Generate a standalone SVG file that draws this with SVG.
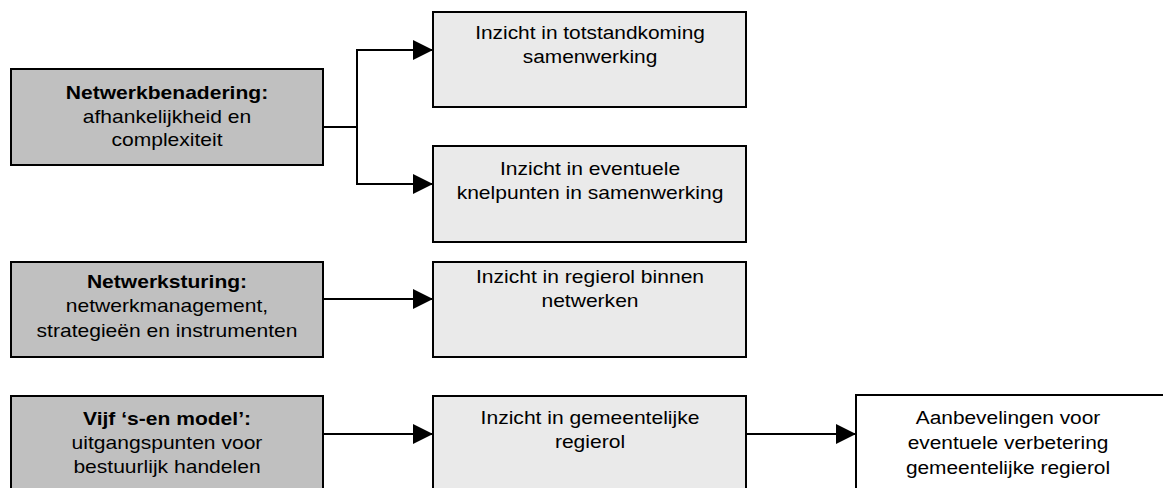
<svg xmlns="http://www.w3.org/2000/svg" width="1163" height="488" viewBox="0 0 1163 488">
  <style>
    .box { stroke: #000; stroke-width: 2; }
    .dark { fill: #c0c0c0; }
    .light { fill: #eaeaea; }
    .white { fill: #ffffff; }
    text { font-family: "Liberation Sans", Arial, sans-serif; font-size: 18px; fill: #000; text-anchor: middle; }
    .b { font-weight: bold; }
    .link { fill: none; stroke: #000; stroke-width: 2; }
  </style>
  <defs>
    <marker id="arrow" viewBox="0 0 20 20" refX="20" refY="10" markerWidth="20" markerHeight="20" markerUnits="userSpaceOnUse" orient="auto">
      <path d="M0,0 L20,10 L0,20 z" fill="#000"/>
    </marker>
  </defs>
  <rect width="1163" height="488" fill="#fff"/>

  <!-- theory boxes (left column) -->
  <g id="netwerkbenadering">
    <rect class="box dark" x="11" y="69" width="312" height="96"/>
    <g transform="translate(167 0) scale(1.17 1)">
      <text class="b" x="0" y="99">Netwerkbenadering:</text>
      <text x="0" y="123">afhankelijkheid en</text>
      <text x="0" y="146">complexiteit</text>
    </g>
  </g>
  <g id="netwerksturing">
    <rect class="box dark" x="11" y="262" width="312" height="95"/>
    <g transform="translate(167 0) scale(1.17 1)">
      <text class="b" x="0" y="288">Netwerksturing:</text>
      <text x="0" y="312">netwerkmanagement,</text>
      <text x="0" y="337">strategieën en instrumenten</text>
    </g>
  </g>
  <g id="vijf-s-en-model">
    <rect class="box dark" x="11" y="396" width="312" height="100"/>
    <g transform="translate(167 0) scale(1.17 1)">
      <text class="b" x="0" y="425">Vijf ‘s-en model’:</text>
      <text x="0" y="449">uitgangspunten voor</text>
      <text x="0" y="473">bestuurlijk handelen</text>
    </g>
  </g>

  <!-- insight boxes (middle column) -->
  <g id="totstandkoming">
    <rect class="box light" x="433" y="12" width="313" height="95"/>
    <g transform="translate(590 0) scale(1.16 1)">
      <text x="0" y="39">Inzicht in totstandkoming</text>
      <text x="0" y="63">samenwerking</text>
    </g>
  </g>
  <g id="knelpunten">
    <rect class="box light" x="433" y="146" width="313" height="96"/>
    <g transform="translate(590 0) scale(1.17 1)">
      <text x="0" y="175">Inzicht in eventuele</text>
      <text x="0" y="199">knelpunten in samenwerking</text>
    </g>
  </g>
  <g id="regierol-netwerken">
    <rect class="box light" x="433" y="262" width="313" height="95"/>
    <g transform="translate(590 0) scale(1.17 1)">
      <text x="0" y="283">Inzicht in regierol binnen</text>
      <text x="0" y="307">netwerken</text>
    </g>
  </g>
  <g id="gemeentelijke-regierol">
    <rect class="box light" x="433" y="396" width="313" height="100"/>
    <g transform="translate(590 0) scale(1.17 1)">
      <text x="0" y="424">Inzicht in gemeentelijke</text>
      <text x="0" y="448">regierol</text>
    </g>
  </g>

  <!-- recommendations -->
  <g id="aanbevelingen">
    <rect class="box white" x="856" y="395" width="330" height="101"/>
    <g transform="translate(1008 0) scale(1.16 1)">
      <text x="0" y="424">Aanbevelingen voor</text>
      <text x="0" y="449">eventuele verbetering</text>
      <text x="0" y="474">gemeentelijke regierol</text>
    </g>
  </g>

  <!-- connectors -->
  <g id="connectors">
    <path class="link" d="M323,127 H357"/>
    <path class="link" d="M357,49 V185"/>
    <path class="link" d="M356,50 H433" marker-end="url(#arrow)"/>
    <path class="link" d="M356,184 H433" marker-end="url(#arrow)"/>
    <path class="link" d="M323,299 H433" marker-end="url(#arrow)"/>
    <path class="link" d="M323,434 H433" marker-end="url(#arrow)"/>
    <path class="link" d="M746,434 H856" marker-end="url(#arrow)"/>
  </g>
</svg>
